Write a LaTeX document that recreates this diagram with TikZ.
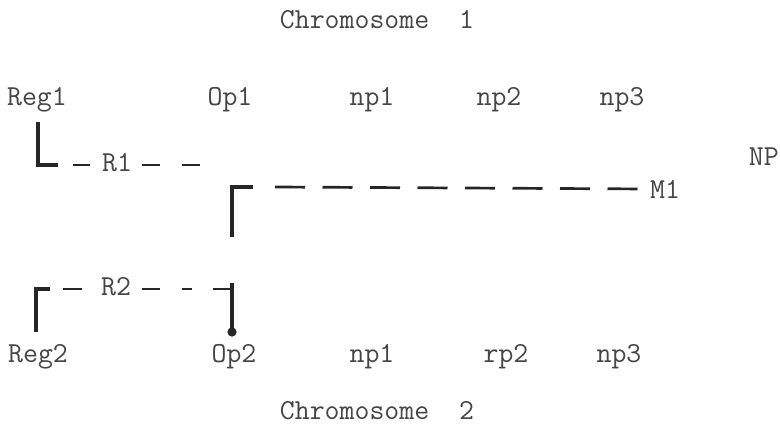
\documentclass[tikz,border=0pt]{standalone}
\usepackage{fontspec}
\definecolor{ink}{gray}{0.27}
\definecolor{barink}{gray}{0.15}
\begin{document}
\begin{tikzpicture}[x=1pt,y=-1pt,
  lbl/.style={font=\fontsize{29}{30}\selectfont\ttfamily, inner sep=0pt, text=ink},
  solidbar/.style={draw=barink, line width=3.2pt},
  dashbar/.style={draw=barink, line width=2.7pt},
  mdash/.style={draw=barink, line width=2.7pt, dash pattern=on 30pt off 17.5pt}]
\useasboundingbox (0,0) rectangle (780,424);
\fill[white] (0,0) rectangle (780,424);
% titles
\node[lbl, anchor=base] (chrA) at (377,28) {Chromosome\ \ 1};
\node[lbl, anchor=base] (chrB) at (377,419) {Chromosome\ \ 2};
% chromosome 1 genes
\node[lbl, anchor=base] (reg1) at (37,105) {Reg1};
\node[lbl, anchor=base] (op1) at (230,105) {Op1};
\node[lbl, anchor=base] (np1a) at (372,105) {np1};
\node[lbl, anchor=base] (np2a) at (499,105) {np2};
\node[lbl, anchor=base] (np3a) at (622,105) {np3};
% chromosome 2 genes
\node[lbl, anchor=base] (reg2) at (38,362) {Reg2};
\node[lbl, anchor=base] (op2) at (234,362) {Op2};
\node[lbl, anchor=base] (np1b) at (372,362) {np1};
\node[lbl, anchor=base] (rp2b) at (506,362) {rp2};
\node[lbl, anchor=base] (np3b) at (619,362) {np3};
% products
\node[lbl, anchor=base east] (NP) at (779,165) {NP};
\node[lbl] (R1) at (117,163) {R1};
\node[lbl, anchor=west] (M1) at (650,189) {M1};
\node[lbl] (R2) at (116,287) {R2};
% R1 bracket from Reg1
\coordinate (r1top) at (38,122);
\coordinate (r1corner) at (38,165);
\coordinate (r1end) at (58,165);
\draw[solidbar] (r1top) -- (r1corner) -- (r1end);
\draw[dashbar] (73,165) -- (90,165);
\draw[dashbar] (142,165) -- (160,165);
\draw[dashbar] (182,165) -- (200,165);
% M1 bracket to Op2
\coordinate (m1bot) at (232,237);
\coordinate (m1corner) at (232,187);
\coordinate (m1end) at (253,187);
\draw[solidbar] (m1bot) -- (m1corner) -- (m1end);
\draw[mdash] (275,187) -- (M1.west);
% R2 bracket from Reg2 to Op2
\coordinate (r2bot) at (36,332);
\coordinate (r2corner) at (36,289);
\coordinate (r2end) at (50,289);
\draw[solidbar] (r2bot) -- (r2corner) -- (r2end);
\draw[dashbar] (63,289) -- (82,289);
\draw[dashbar] (142,289) -- (160,289);
\draw[dashbar] (182,289) -- (192,289);
\coordinate (optop) at (232,283);
\coordinate (opdot) at (232,332);
\draw[dashbar] (213,289) -- (232,289);
\draw[solidbar] (optop) -- (opdot);
\fill[barink] (opdot) circle (4.6pt);
\end{tikzpicture}
\end{document}
